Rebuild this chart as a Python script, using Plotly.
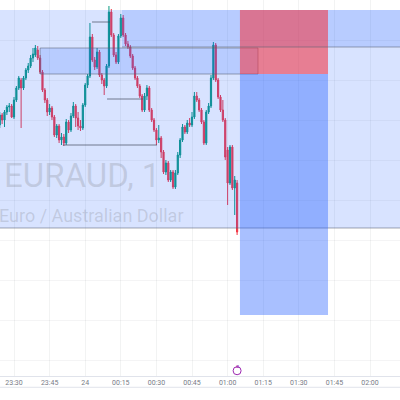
import pandas as pd
import plotly.graph_objects as go

# ---- data (EURAUD, 1-minute candles) ----
start_time = "2024-01-23 23:24"
n_candles = 101
times = pd.date_range(start_time, periods=n_candles, freq="1min")

open_ = [1.64875,1.64885,1.64880,1.64888,1.64893,1.64894,1.64883,1.64900,1.64912,1.64920,
         1.64912,1.64922,1.64930,1.64934,1.64942,1.64945,1.64950,1.64942,1.64928,1.64910,
         1.64900,1.64888,1.64892,1.64883,1.64865,1.64874,1.64860,1.64863,1.64857,1.64878,
         1.64870,1.64884,1.64894,1.64882,1.64874,1.64872,1.64895,1.64915,1.64924,1.64963,
         1.64940,1.64933,1.64948,1.64925,1.64920,1.64914,1.64934,1.64988,1.64965,1.64945,
         1.64938,1.64964,1.64982,1.64965,1.64956,1.64953,1.64944,1.64932,1.64922,1.64914,
         1.64904,1.64890,1.64904,1.64912,1.64890,1.64880,1.64870,1.64860,1.64862,1.64848,
         1.64828,1.64837,1.64820,1.64828,1.64813,1.64827,1.64845,1.64860,1.64873,1.64868,
         1.64877,1.64875,1.64883,1.64904,1.64900,1.64890,1.64878,1.64857,1.64888,1.64894,
         1.64922,1.64955,1.64920,1.64903,1.64890,1.64880,1.64850,1.64817,1.64853,1.64812,
         1.64817]
high = [1.64888,1.64887,1.64890,1.64895,1.64897,1.64896,1.64903,1.64914,1.64924,1.64922,
        1.64924,1.64932,1.64937,1.64945,1.64952,1.64955,1.64954,1.64945,1.64930,1.64912,
        1.64902,1.64896,1.64894,1.64885,1.64876,1.64876,1.64867,1.64866,1.64881,1.64880,
        1.64887,1.64898,1.64896,1.64888,1.64880,1.64897,1.64917,1.64926,1.64977,1.64966,
        1.64943,1.64952,1.64950,1.64927,1.64922,1.64936,1.64994,1.64991,1.64967,1.64948,
        1.64966,1.64986,1.64985,1.64967,1.64959,1.64955,1.64946,1.64934,1.64924,1.64916,
        1.64906,1.64907,1.64915,1.64914,1.64892,1.64882,1.64872,1.64875,1.64864,1.64850,
        1.64840,1.64839,1.64830,1.64830,1.64830,1.64848,1.64862,1.64876,1.64875,1.64880,
        1.64882,1.64888,1.64908,1.64908,1.64902,1.64892,1.64880,1.64890,1.64897,1.64925,
        1.64958,1.64957,1.64922,1.64905,1.64900,1.64882,1.64853,1.64855,1.64855,1.64824,
        1.64820]
low = [1.64872,1.64876,1.64873,1.64885,1.64888,1.64882,1.64881,1.64898,1.64910,1.64872,
       1.64910,1.64920,1.64927,1.64932,1.64938,1.64943,1.64940,1.64926,1.64908,1.64897,
       1.64884,1.64885,1.64880,1.64863,1.64862,1.64857,1.64855,1.64854,1.64855,1.64867,
       1.64868,1.64882,1.64873,1.64870,1.64869,1.64870,1.64893,1.64912,1.64922,1.64938,
       1.64930,1.64931,1.64923,1.64916,1.64905,1.64912,1.64932,1.64963,1.64943,1.64936,
       1.64936,1.64962,1.64963,1.64954,1.64951,1.64942,1.64930,1.64920,1.64912,1.64902,
       1.64888,1.64888,1.64900,1.64888,1.64878,1.64868,1.64855,1.64857,1.64842,1.64826,
       1.64825,1.64818,1.64818,1.64811,1.64811,1.64825,1.64842,1.64858,1.64866,1.64866,
       1.64873,1.64873,1.64881,1.64898,1.64888,1.64876,1.64855,1.64855,1.64886,1.64892,
       1.64920,1.64918,1.64901,1.64888,1.64878,1.64840,1.64795,1.64815,1.64810,1.64785,
       1.64765]
close = [1.64885,1.64880,1.64888,1.64893,1.64894,1.64883,1.64900,1.64912,1.64922,1.64912,
         1.64922,1.64930,1.64934,1.64942,1.64946,1.64952,1.64942,1.64928,1.64910,1.64900,
         1.64888,1.64892,1.64883,1.64865,1.64874,1.64860,1.64863,1.64857,1.64878,1.64870,
         1.64884,1.64894,1.64882,1.64874,1.64872,1.64895,1.64915,1.64924,1.64963,1.64940,
         1.64933,1.64948,1.64925,1.64920,1.64914,1.64934,1.64988,1.64965,1.64945,1.64938,
         1.64964,1.64982,1.64965,1.64956,1.64953,1.64944,1.64932,1.64922,1.64914,1.64904,
         1.64890,1.64904,1.64912,1.64890,1.64880,1.64870,1.64860,1.64862,1.64848,1.64828,
         1.64837,1.64820,1.64828,1.64813,1.64827,1.64845,1.64860,1.64873,1.64868,1.64877,
         1.64875,1.64883,1.64904,1.64900,1.64890,1.64878,1.64857,1.64888,1.64894,1.64922,
         1.64955,1.64920,1.64903,1.64890,1.64880,1.64843,1.64817,1.64853,1.64812,1.64820,
         1.64768]

tick_vals = ["2024-01-23 23:30", "2024-01-23 23:45", "2024-01-24 00:00", "2024-01-24 00:15",
             "2024-01-24 00:30", "2024-01-24 00:45", "2024-01-24 01:00", "2024-01-24 01:15",
             "2024-01-24 01:30", "2024-01-24 01:45", "2024-01-24 02:00"]
tick_text = ["23:30", "23:45", "24", "00:15", "00:30", "00:45", "01:00", "01:15",
             "01:30", "01:45", "02:00"]

# drawings (price levels)
zone_top, zone_bottom = 1.64990, 1.64772
band_bottom = 1.64953
box_top, box_bottom = 1.64952, 1.64926
entry, stop, target = 1.64926, 1.64990, 1.64685
swing_levels = [1.64978, 1.64901, 1.64855]
swing_spans = [("2024-01-24 00:02:52", "2024-01-24 00:10:27"),
               ("2024-01-24 00:09:12", "2024-01-24 00:24:21"),
               ("2024-01-23 23:50:36", "2024-01-24 00:30:15")]

fig = go.Figure()
fig.add_trace(go.Candlestick(
    x=times, open=open_, high=high, low=low, close=close,
    increasing=dict(line=dict(color="#089981", width=1), fillcolor="#089981"),
    decreasing=dict(line=dict(color="#F23645", width=1), fillcolor="#F23645"),
    whiskerwidth=0, showlegend=False, hoverinfo="skip"))

blue = "rgba(41,98,255,0.18)"
edge = "rgba(90,95,115,0.55)"
shapes = [
    dict(type="rect", xref="paper", x0=0, x1=1, y0=zone_bottom, y1=zone_top,
         fillcolor=blue, line=dict(width=0), layer="above"),
    dict(type="line", xref="paper", x0=0, x1=1, y0=zone_bottom, y1=zone_bottom,
         line=dict(color=edge, width=1), layer="above"),
    dict(type="rect", x0="2024-01-24 00:15:30", x1="2024-01-24 02:20", y0=band_bottom, y1=zone_top,
         fillcolor=blue, line=dict(width=0), layer="above"),
    dict(type="rect", x0="2024-01-23 23:41", x1="2024-01-24 01:12:48", y0=box_bottom, y1=box_top,
         fillcolor=blue, line=dict(color=edge, width=1), layer="above"),
    dict(type="rect", x0="2024-01-24 01:05:12", x1="2024-01-24 01:42:18", y0=entry, y1=stop,
         fillcolor="rgba(242,54,69,0.58)", line=dict(width=0), layer="above"),
    dict(type="rect", x0="2024-01-24 01:05:12", x1="2024-01-24 01:42:18", y0=target, y1=entry,
         fillcolor="rgba(41,98,255,0.40)", line=dict(width=0), layer="above"),
    dict(type="line", x0="2024-01-24 00:15:30", x1="2024-01-24 02:20", y0=band_bottom, y1=band_bottom,
         line=dict(color=edge, width=1), layer="above"),
]
for lvl, (a, b) in zip(swing_levels, swing_spans):
    shapes.append(dict(type="line", x0=a, x1=b, y0=lvl, y1=lvl,
                       line=dict(color="rgba(70,75,95,0.7)", width=1), layer="above"))
# event marker on time axis
shapes.append(dict(type="circle", xref="x", yref="paper", xsizemode="pixel", ysizemode="pixel",
                   xanchor="2024-01-24 01:04", yanchor=0.014, x0=-4, x1=4, y0=-4, y1=4,
                   line=dict(color="#9c27b0", width=1), fillcolor="white", layer="above"))
shapes.append(dict(type="line", xref="paper", yref="paper", x0=0, x1=1, y0=-0.03, y1=-0.03,
                   line=dict(color="#e0e3eb", width=1)))

fig.update_layout(
    width=400, height=400,
    margin=dict(l=0, r=0, t=0, b=24),
    paper_bgcolor="white", plot_bgcolor="white",
    shapes=shapes,
    font=dict(family="Roboto, sans-serif"),
    xaxis=dict(type="date", range=["2024-01-23 23:24:06", "2024-01-24 02:12:38"],
               tickvals=tick_vals, ticktext=tick_text, tickfont=dict(size=7, color="#787b86"),
               showgrid=True, gridcolor="rgba(42,46,57,0.06)", gridwidth=1,
               rangeslider=dict(visible=False), showline=True, linecolor="#e0e3eb",
               ticks="", zeroline=False, fixedrange=True),
    yaxis=dict(range=[1.64624, 1.65000], showticklabels=False, showgrid=True, dtick=0.0004,
               gridcolor="rgba(42,46,57,0.05)", zeroline=False, ticks=""),
    annotations=[
        dict(text="EURAUD, 1", xref="paper", yref="paper", x=0.005, y=0.532,
             xanchor="left", yanchor="middle", showarrow=False,
             font=dict(size=33, color="rgba(120,123,134,0.25)", family="Roboto")),
        dict(text="Euro / Australian Dollar", xref="paper", yref="paper", x=-0.008, y=0.428,
             xanchor="left", yanchor="middle", showarrow=False,
             font=dict(size=18, color="rgba(120,123,134,0.25)", family="Roboto")),
        dict(text="e", xref="x", yref="paper", x="2024-01-24 01:04", y=0.014,
             showarrow=False, font=dict(size=6, color="#9c27b0")),
    ],
)

fig.write_html("out.html", config={"displayModeBar": False},
               post_script="document.body.style.margin='0';document.body.style.overflow='hidden';")
